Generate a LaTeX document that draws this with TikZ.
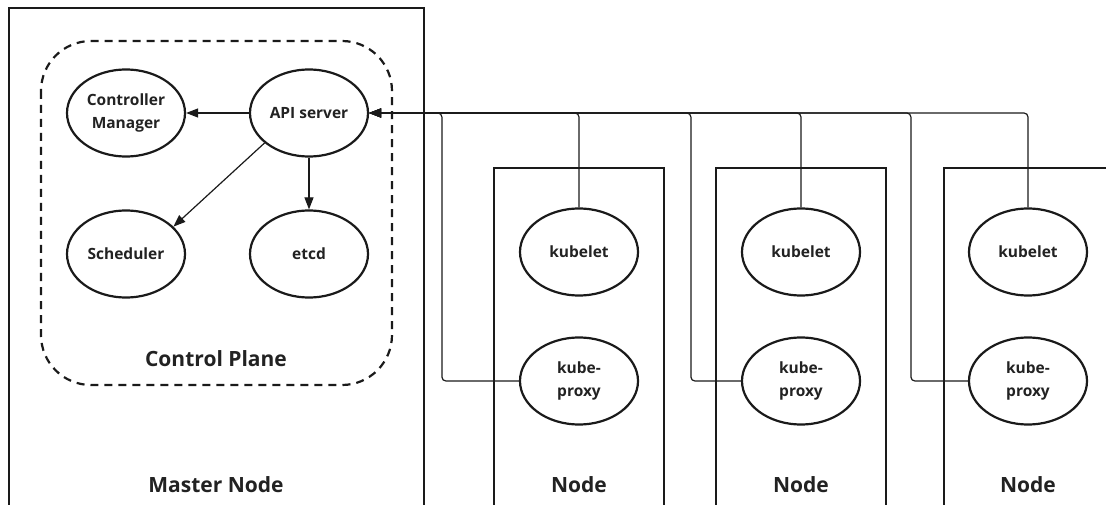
\documentclass[tikz,border=0pt]{standalone}
\usepackage{fontspec}
\setmainfont{Open Sans}
\usetikzlibrary{shapes.geometric,arrows.meta}
\definecolor{ink}{HTML}{1A1A1A}
\definecolor{txt}{HTML}{222222}
\begin{document}
\begin{tikzpicture}[x=1pt,y=-1pt,
  comp/.style={ellipse,draw=ink,line width=2.2pt,minimum width=118pt,minimum height=87pt,
    inner sep=0pt,align=center,font=\bfseries\fontsize{15.5}{23}\selectfont,text=txt},
  frame/.style={draw=ink,line width=2.6pt},
  plane/.style={draw=ink,line width=2.2pt,dash pattern=on 8pt off 6pt,rounded corners=50pt},
  flow/.style={draw=ink,line width=1.2pt,-{Triangle[length=12pt,width=9pt]}},
  wire/.style={draw=ink,line width=1.2pt,rounded corners=4pt,-{Triangle[length=12pt,width=9pt]}},
  title/.style={font=\bfseries\fontsize{21}{24}\selectfont,text=txt}]
\useasboundingbox (0,0) rectangle (1106,505);
\clip (0,0) rectangle (1106,505);

% machine frames (open towards the bottom)
\draw[frame] (9,8) rectangle (424,520);
\draw[frame] (494,168) rectangle (664,520);
\draw[frame] (716,168) rectangle (886,520);
\draw[frame] (944,168) rectangle (1130,520);

% control plane boundary
\draw[plane] (41,41) rectangle (392,385);

% control plane components
\node[comp] (cm)   at (126,113) {Controller\\Manager};
\node[comp] (api)  at (309,113) {API server};
\node[comp] (sch)  at (126,254) {Scheduler};
\node[comp] (etcd) at (309,254) {etcd};

\node[title] (cplabel) at (216,359) {Control Plane};
\node[title] (mlabel)  at (216,485) {Master Node};

% worker components
\foreach \i/\x in {1/579,2/801,3/1028}{
  \node[comp] (kubelet\i) at (\x,252) {kubelet};
  \node[comp] (proxy\i)   at (\x,381) {kube-\\proxy};
  \node[title] (nlabel\i) at (\x,485) {Node};
}

% API server fan-out
\draw[flow] (api) -- (cm);
\draw[flow] (api.214) -- (sch.30);
\draw[flow] (api.south) -- (etcd.north);

% worker links back to the API server
\draw[wire] (proxy1.west) -- ++(-77,0) |- (api.east);
\draw[wire] (kubelet1.north) |- (api.east);
\draw[wire] (proxy2.west) -- ++(-50,0) |- (api.east);
\draw[wire] (kubelet2.north) |- (api.east);
\draw[wire] (proxy3.west) -- ++(-57,0) |- (api.east);
\draw[wire] (kubelet3.north) |- (api.east);
\end{tikzpicture}
\end{document}
